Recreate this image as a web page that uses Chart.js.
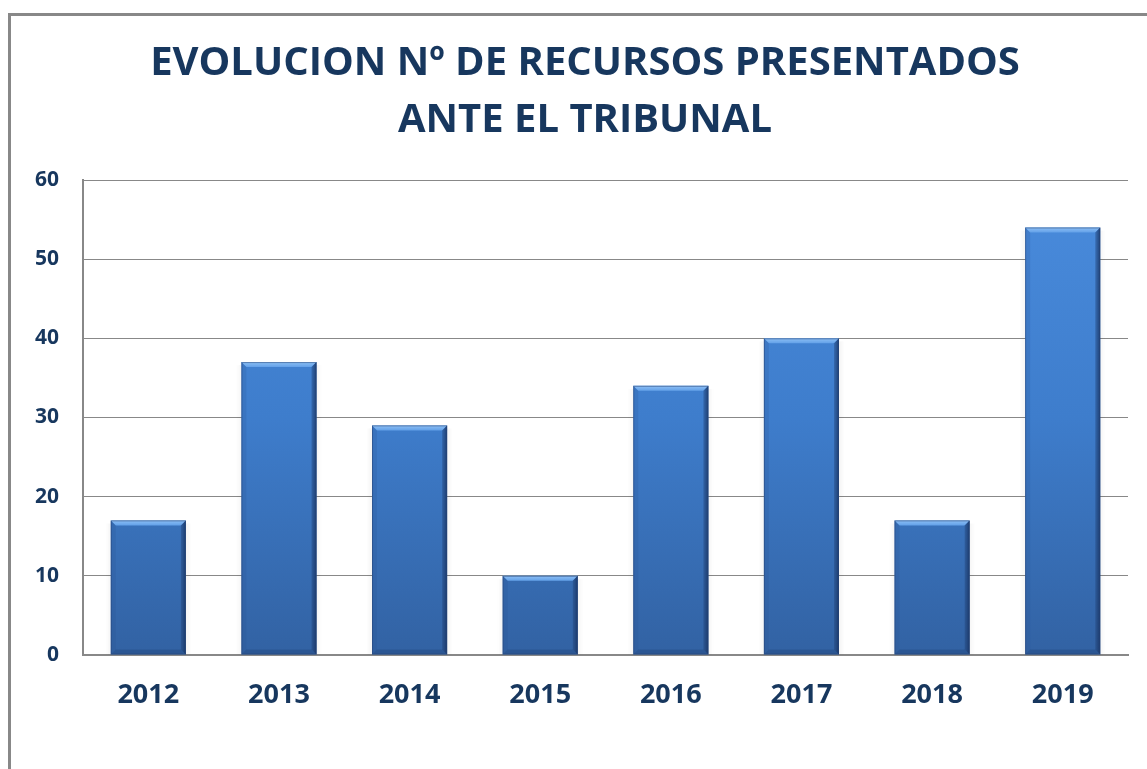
<!DOCTYPE html>
<html>
<head>
<meta charset="utf-8">
<script src="https://cdn.jsdelivr.net/npm/chart.js@4.4.1/dist/chart.umd.min.js"></script>
<style>
  html, body { margin: 0; padding: 0; background: #fff; overflow: hidden; width: 1147px; height: 769px; }
  #frame { position: absolute; left: 8px; top: 13px; width: 1160px; height: 800px; border: 3px solid #888; background: #fff; }
  #c { position: absolute; left: 0; top: 0; }
</style>
</head>
<body>
<div id="frame"><canvas id="c" width="1148" height="753"></canvas></div>
<script>
const categories = ['2012', '2013', '2014', '2015', '2016', '2017', '2018', '2019'];
const recursos = [17, 37, 29, 10, 34, 40, 17, 54];
const titleLines = ['EVOLUCION Nº DE RECURSOS PRESENTADOS', 'ANTE EL TRIBUNAL'];
const yMin = 0, yMax = 60, yStep = 10;

const navy = '#17375E';
const FONT = "'Open Sans', 'DejaVu Sans', sans-serif";

const titlePlugin = {
  id: 'centredTitle',
  afterDraw(chart) {
    const ctx = chart.ctx;
    ctx.save();
    ctx.fillStyle = navy;
    ctx.font = 'bold 40px ' + FONT;
    ctx.textAlign = 'center';
    ctx.textBaseline = 'middle';
    const cx = chart.width / 2;
    titleLines.forEach((line, i) => ctx.fillText(line, cx, 48 + i * 57));
    ctx.restore();
  }
};

const bevelPlugin = {
  id: 'bevel',
  beforeDatasetsDraw(chart) {
    const ctx = chart.ctx;
    chart.getDatasetMeta(0).data.forEach(bar => {
      const p = bar.getProps(['x', 'y', 'base', 'width'], true);
      const l = p.x - p.width / 2, r = p.x + p.width / 2;
      ctx.save();
      for (let i = 1; i <= 5; i++) {
        ctx.fillStyle = 'rgba(0,0,0,' + (0.05 - i * 0.008) + ')';
        ctx.fillRect(r + i - 1, p.y + 3, 1, p.base - p.y - 3);
        ctx.fillRect(l - i, p.y + 3, 1, p.base - p.y - 3);
      }
      ctx.restore();
    });
  },
  afterDatasetsDraw(chart) {
    const ctx = chart.ctx;
    chart.getDatasetMeta(0).data.forEach(bar => {
      const p = bar.getProps(['x', 'y', 'base', 'width'], true);
      const l = p.x - p.width / 2, r = p.x + p.width / 2;
      const t = p.y, b = p.base, k = 5;
      ctx.save();
      let g = ctx.createLinearGradient(0, t, 0, t + k);
      g.addColorStop(0, '#8EC0F5');
      g.addColorStop(1, '#62A0E8');
      ctx.fillStyle = g;
      ctx.beginPath();
      ctx.moveTo(l, t); ctx.lineTo(r, t); ctx.lineTo(r - k, t + k); ctx.lineTo(l + k, t + k); ctx.closePath();
      ctx.fill();
      g = ctx.createLinearGradient(r - k, 0, r, 0);
      g.addColorStop(0, 'rgba(30,60,110,0.35)');
      g.addColorStop(1, 'rgba(20,45,90,0.8)');
      ctx.fillStyle = g;
      ctx.beginPath();
      ctx.moveTo(r, t); ctx.lineTo(r, b); ctx.lineTo(r - k, b - k); ctx.lineTo(r - k, t + k); ctx.closePath();
      ctx.fill();
      ctx.fillStyle = 'rgba(40,80,140,0.18)';
      ctx.beginPath();
      ctx.moveTo(l, t); ctx.lineTo(l + k, t + k); ctx.lineTo(l + k, b - k); ctx.lineTo(l, b); ctx.closePath();
      ctx.fill();
      ctx.fillStyle = 'rgba(20,45,90,0.22)';
      ctx.beginPath();
      ctx.moveTo(l, b); ctx.lineTo(l + k, b - k); ctx.lineTo(r - k, b - k); ctx.lineTo(r, b); ctx.closePath();
      ctx.fill();
      ctx.strokeStyle = 'rgba(40,70,120,0.55)';
      ctx.lineWidth = 1;
      ctx.strokeRect(l + 0.5, t + 0.5, r - l - 1, b - t - 1);
      ctx.restore();
    });
  }
};

new Chart(document.getElementById('c'), {
  type: 'bar',
  data: {
    labels: categories,
    datasets: [{
      label: 'Recursos',
      data: recursos,
      backgroundColor: (c) => {
        const area = c.chart.chartArea;
        if (!area) return '#3F7BCB';
        const g = c.chart.ctx.createLinearGradient(0, area.top, 0, area.bottom);
        g.addColorStop(0, '#4A8CDD');
        g.addColorStop(0.5, '#3E7DCC');
        g.addColorStop(1, '#3262A3');
        return g;
      },
      borderWidth: 0,
      barPercentage: 0.575,
      categoryPercentage: 1
    }]
  },
  options: {
    responsive: false,
    animation: false,
    devicePixelRatio: 1,
    layout: { padding: { left: 0, right: 31, top: 164, bottom: 0 } },
    plugins: {
      legend: { display: false },
      tooltip: { enabled: false },
      title: { display: false }
    },
    scales: {
      x: {
        grid: { display: false },
        border: { display: true, color: '#888', width: 2 },
        ticks: { color: navy, font: { family: FONT, size: 27, weight: 'bold' }, padding: 16 },
        afterFit: (s) => { s.height = 114; }
      },
      y: {
        min: yMin, max: yMax,
        ticks: { stepSize: yStep, color: navy, font: { family: FONT, size: 21, weight: 'bold' }, padding: 24 },
        grid: { color: '#888', lineWidth: 1, drawTicks: false },
        border: { display: true, color: '#888', width: 2 },
        afterFit: (s) => { s.width = 72; }
      }
    }
  },
  plugins: [bevelPlugin, titlePlugin]
});
</script>
</body>
</html>
